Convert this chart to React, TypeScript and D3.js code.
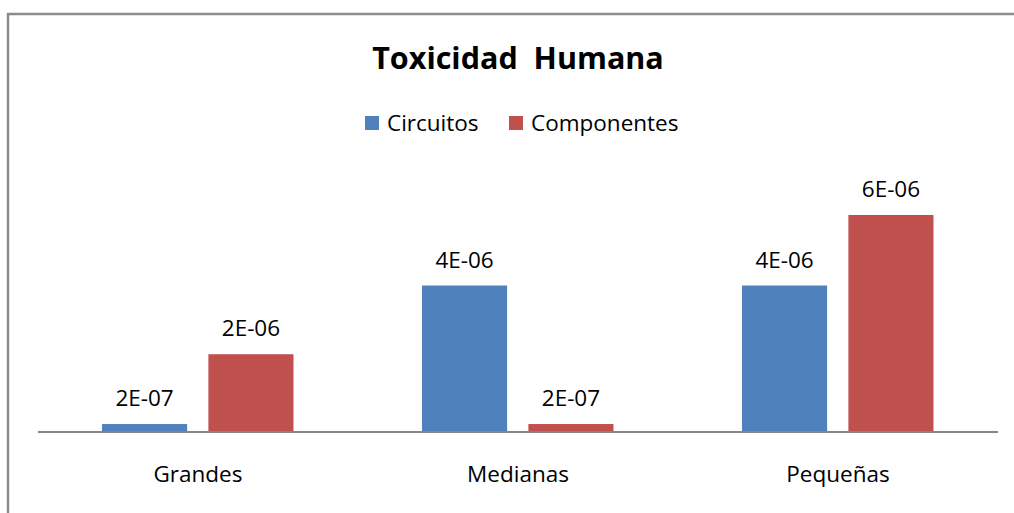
import React, { useEffect, useRef } from 'react';
import * as d3 from 'd3';

const categories = ['Grandes', 'Medianas', 'Pequeñas'];
const seriesNames = ['Circuitos', 'Componentes'];
const circuitos = [2.2e-7, 4.05e-6, 4.05e-6];
const componentes = [2.15e-6, 2.2e-7, 6.0e-6];
const valueLabels = [
    ['2E-07', '4E-06', '4E-06'],
    ['2E-06', '2E-07', '6E-06'],
];
const colors = ['#4F81BD', '#C0504D'];

const W = 1014;
const H = 513;
const FONT = '"Open Sans", sans-serif';

export default function App() {
    const svgRef = useRef<SVGSVGElement>(null);

    useEffect(() => {
        const svg = d3.select(svgRef.current);
        svg.selectAll('*').remove();

        // chart frame
        svg.append('path')
            .attr('d', `M8,${H + 5} V14 H${W + 5}`)
            .attr('fill', 'none')
            .attr('stroke', '#8c8c8c')
            .attr('stroke-width', 2.5);

        const x0 = d3.scaleBand().domain(categories).range([38, 998]).padding(0);
        const x1 = d3.scaleBand().domain(seriesNames).range([64, 255.5]).paddingInner(0.2);
        const y = d3.scaleLinear().domain([0, 7e-6]).range([432, 432 - 253.2]);

        const series = [circuitos, componentes];

        const groups = svg
            .append('g')
            .selectAll('g')
            .data(categories)
            .join('g')
            .attr('transform', (d) => `translate(${x0(d)},0)`);

        groups
            .selectAll('rect')
            .data((d, i) => seriesNames.map((s, j) => ({ s, j, v: series[j][i], label: valueLabels[j][i] })))
            .join('rect')
            .attr('x', (d) => x1(d.s)!)
            .attr('y', (d) => y(d.v))
            .attr('width', x1.bandwidth())
            .attr('height', (d) => y(0) - y(d.v))
            .attr('fill', (d) => colors[d.j]);

        groups
            .selectAll('text.val')
            .data((d, i) => seriesNames.map((s, j) => ({ s, j, v: series[j][i], label: valueLabels[j][i] })))
            .join('text')
            .attr('class', 'val')
            .attr('x', (d) => x1(d.s)! + x1.bandwidth() / 2)
            .attr('y', (d) => y(d.v) - 18)
            .attr('text-anchor', 'middle')
            .style('font-family', FONT)
            .style('font-size', '22.5px')
            .attr('fill', '#000')
            .text((d) => d.label);

        // baseline
        svg.append('line')
            .attr('x1', x0.range()[0])
            .attr('x2', x0.range()[1])
            .attr('y1', y(0))
            .attr('y2', y(0))
            .attr('stroke', '#868686')
            .attr('stroke-width', 2);

        // category labels
        svg.append('g')
            .selectAll('text')
            .data(categories)
            .join('text')
            .attr('x', (d) => x0(d)! + x0.bandwidth() / 2)
            .attr('y', 482)
            .attr('text-anchor', 'middle')
            .style('font-family', FONT)
            .style('font-size', '22.5px')
            .text((d) => d);

        // title
        svg.append('text')
            .attr('x', 518)
            .attr('y', 69)
            .attr('text-anchor', 'middle')
            .style('font-family', FONT)
            .style('font-size', '30.5px')
            .style('font-weight', 'bold')
            .style('white-space', 'pre')
            .attr('xml:space', 'preserve')
            .text('Toxicidad  Humana');

        // legend
        const legendX = [365, 509];
        const legend = svg
            .append('g')
            .selectAll('g')
            .data(seriesNames)
            .join('g')
            .attr('transform', (d, i) => `translate(${legendX[i]},116)`);
        legend.append('rect').attr('width', 14).attr('height', 14).attr('fill', (d, i) => colors[i]);
        legend
            .append('text')
            .attr('x', 22)
            .attr('y', 15)
            .style('font-family', FONT)
            .style('font-size', '22.5px')
            .text((d) => d);
    }, []);

    return (
        <div style={{ position: 'absolute', left: 0, top: 0, width: W, height: H, background: '#fff' }}>
            <svg ref={svgRef} width={W} height={H} />
        </div>
    );
}
